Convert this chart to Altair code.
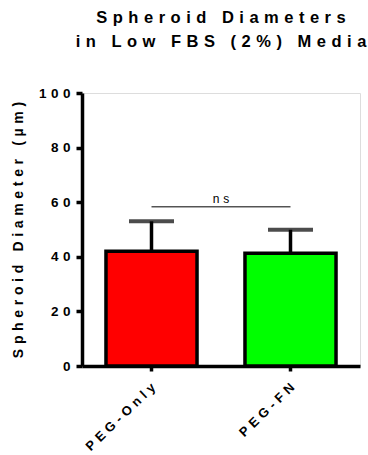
import altair as alt
import pandas as pd

FONT = "Liberation Sans, Arial, Helvetica, sans-serif"
SP = "\u2004"  # three-per-em space used as letter spacing


def spaced(s):
    return SP.join(s)


# Data
groups = ["PEG-Only", "PEG-FN"]
means = [42.0, 41.3]
errors = [11.0, 8.6]
colors = ["#FF0000", "#00FF00"]
sig_pair = ["PEG-Only", "PEG-FN"]
sig_height = 58.3
sig_label = "ns"

df = pd.DataFrame({
    "group": groups,
    "mean": means,
    "upper": [m + e for m, e in zip(means, errors)],
})
sig = pd.DataFrame({
    "a": [sig_pair[0]], "b": [sig_pair[1]],
    "y": [sig_height], "label": [spaced(sig_label)],
})

space_expr = "join(split(datum.label, ''), '" + SP + "')"

x_scale = alt.Scale(domain=groups, paddingInner=0.345, paddingOuter=0.1725)
y_scale = alt.Scale(domain=[0, 100], nice=False, zero=True)

bars = alt.Chart(df).mark_bar(stroke="black", strokeWidth=3.5).encode(
    x=alt.X("group:N", scale=x_scale, title=None,
            axis=alt.Axis(labelAngle=-44, labelAlign="right", labelBaseline="middle",
                          labelExpr=space_expr, labelFont=FONT, labelFontSize=13,
                          labelFontWeight="bold", labelColor="black", labelPadding=14,
                          labelOffset=2,
                          domainColor="black", domainWidth=3.5, tickColor="black",
                          tickWidth=3.5, tickSize=5, grid=False)),
    y=alt.Y("mean:Q", scale=y_scale,
            axis=alt.Axis(values=[0, 20, 40, 60, 80, 100], labelExpr=space_expr,
                          labelFont=FONT, labelFontSize=13.5, labelFontWeight="bold",
                          labelColor="black", labelPadding=6,
                          domainColor="black", domainWidth=3.5, tickColor="black",
                          tickWidth=3.5, tickSize=6, grid=False,
                          title=spaced("Spheroid Diameter (µm)"), titleFont=FONT,
                          titleFontSize=14, titleFontWeight="bold", titleColor="black",
                          titleAngle=270, titleBaseline="alphabetic", titleX=-60)),
    color=alt.Color("group:N", scale=alt.Scale(domain=groups, range=colors), legend=None),
)

# Upper error bars with caps
stems = alt.Chart(df).mark_rule(color="black", strokeWidth=3.5).encode(
    x=alt.X("group:N"), y=alt.Y("mean:Q"), y2="upper:Q")
caps = alt.Chart(df).mark_tick(color="black", thickness=4, size=45).encode(
    x=alt.X("group:N"), y=alt.Y("upper:Q"))

# Significance bracket
sig_line = alt.Chart(sig).mark_rule(color="black", strokeWidth=1).encode(
    x=alt.X("a:N"), x2="b:N", y=alt.Y("y:Q"))
sig_text = alt.Chart(sig).mark_text(
    dx=69.5, dy=-4, baseline="alphabetic", align="center",
    font=FONT, fontSize=12, color="black").encode(
    x=alt.X("a:N"), y=alt.Y("y:Q"), text="label:N")

chart = alt.layer(bars, stems, caps, sig_line, sig_text).properties(
    width=278, height=273,
    autosize=alt.AutoSizeParams(type="none"),
    padding={"left": 82, "top": 93, "right": 8, "bottom": 89},
    title=alt.TitleParams(
        text=[spaced("Spheroid Diameters"), spaced("in Low FBS (2%) Media")],
        font=FONT, fontSize=16.5, fontWeight="bold", color="black",
        anchor="middle", offset=36, lineHeight=24),
).configure_view(stroke=None).configure(background="white")

chart.save("out.html", embed_options={"renderer": "svg", "actions": False})
